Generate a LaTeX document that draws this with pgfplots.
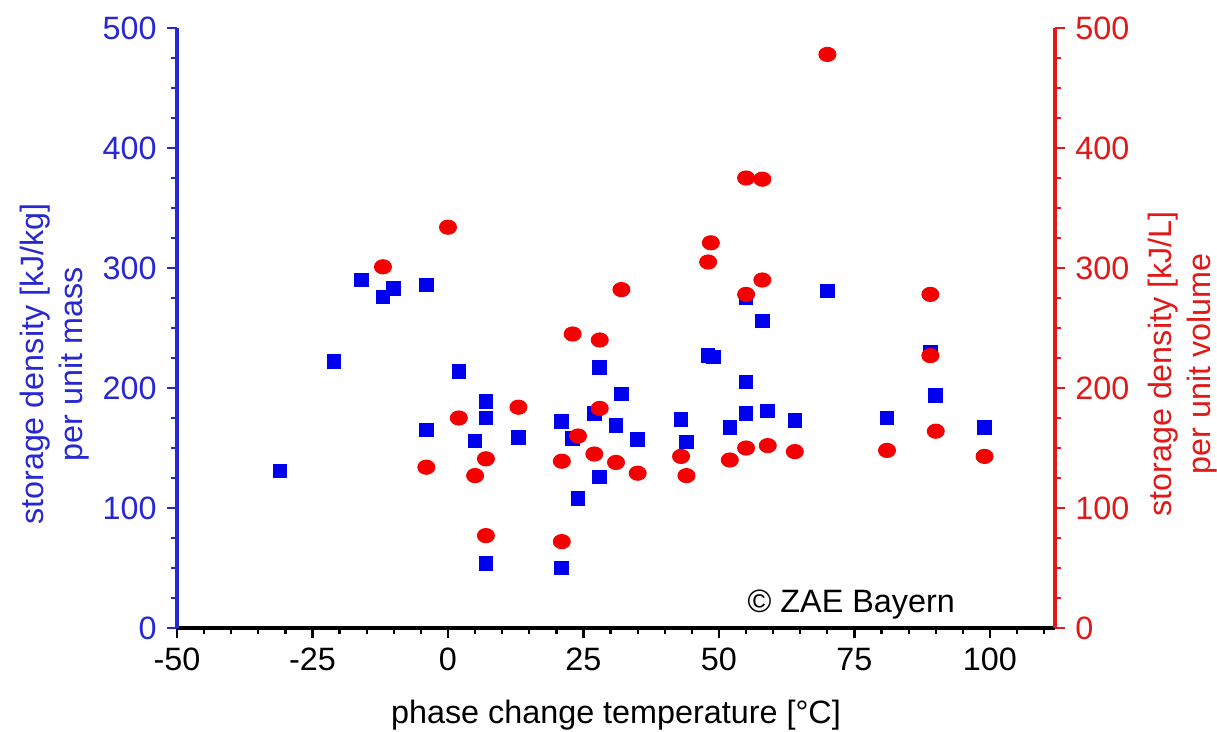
\documentclass[border=0pt]{standalone}
\usepackage{fontspec}
\setmainfont{Liberation Sans}
\usepackage{pgfplots}
\pgfplotsset{compat=1.18}
\definecolor{sqblue}{RGB}{0,0,240}
\definecolor{txtblue}{RGB}{40,40,210}
\definecolor{dotred}{RGB}{245,0,0}
\definecolor{txtred}{RGB}{225,25,25}

\pgfplotsset{
  common/.style={
    scale only axis, width=10.975cm, height=7.5cm,
    xmin=-50, xmax=112, ymin=0, ymax=500,
    ytick={0,100,...,500}, minor ytick={25,50,...,475},
    tick align=outside, major tick length=0.13cm, minor tick length=0.075cm,
    /pgf/number format/assume math mode=true,
    axis line style={-, line width=1.1pt},
    clip=false,
  }
}

\begin{document}
\begin{tikzpicture}[font=\fontsize{11.5}{13.8}\selectfont]
% storage density per unit mass (left axis)
\begin{axis}[common, name=ax,
  axis x line*=bottom, axis y line*=left,
  x axis line style={black}, y axis line style={txtblue},
  xtick={-50,-25,...,100}, minor xtick={-45,-40,...,110},
  xtick style={black, line width=0.8pt}, ytick style={txtblue, line width=0.8pt},
  yticklabel style={text=txtblue},
  xlabel={phase change temperature [°C]},
  xlabel style={at={(axis description cs:0.5,-0.145)}, anchor=center},
  ylabel={storage density [kJ/kg]\\per unit mass},
  ylabel style={text=txtblue, align=center, at={(axis description cs:-0.139,0.44)}, anchor=center},
]
\addplot[only marks, mark=square*, mark size=2.4pt, color=sqblue, mark options={draw=sqblue, fill=sqblue}] coordinates {
(-31,131) (-21,222) (-16,290) (-12,276) (-10,283) (-4,286) (-4,165)
(2,214) (5,156) (7,189) (7,175) (7,54) (13,159)
(21,172) (21,50) (23,158) (24,108) (27,179) (28,217) (28,126)
(31,169) (32,195) (35,157) (43,174) (44,155) (48,227) (49,226)
(52,167) (55,275) (55,205) (55,179) (58,256) (59,181) (64,173)
(70,281) (81,175) (89,230) (90,194) (99,167)
};
\node at (axis cs:74.4,19.4) {© ZAE Bayern};
\end{axis}
% storage density per unit volume (right axis)
\begin{axis}[common,
  axis x line=none, axis y line*=right,
  y axis line style={txtred},
  ytick style={txtred, line width=0.8pt},
  yticklabel style={text=txtred},
  ylabel={storage density [kJ/L]\\per unit volume},
  ylabel style={text=txtred, align=center, at={(axis description cs:1.145,0.44)}, anchor=center},
]
\addplot[only marks, mark=*, mark size=2.5pt, color=dotred, mark options={draw=dotred, fill=dotred, xscale=1.2}] coordinates {
(-12,301) (-4,134) (0,334) (2,175) (5,127) (7,141) (7,77) (13,184)
(21,139) (21,72) (23,245) (24,160) (27,145) (28,240) (28,183)
(31,138) (32,282) (35,129) (43,143) (44,127) (48,305) (48.5,321)
(52,140) (55,375) (55,278) (55,150) (58,374) (58,290) (59,152)
(64,147) (70,478) (81,148) (89,278) (89,227) (90,164) (99,143)
};
\end{axis}
\pgfresetboundingbox
\path[use as bounding box] ([shift={(-2.2125cm,-1.2875cm)}]ax.south west) rectangle ([shift={(13cm,7.85cm)}]ax.south west);
\end{tikzpicture}
\end{document}
